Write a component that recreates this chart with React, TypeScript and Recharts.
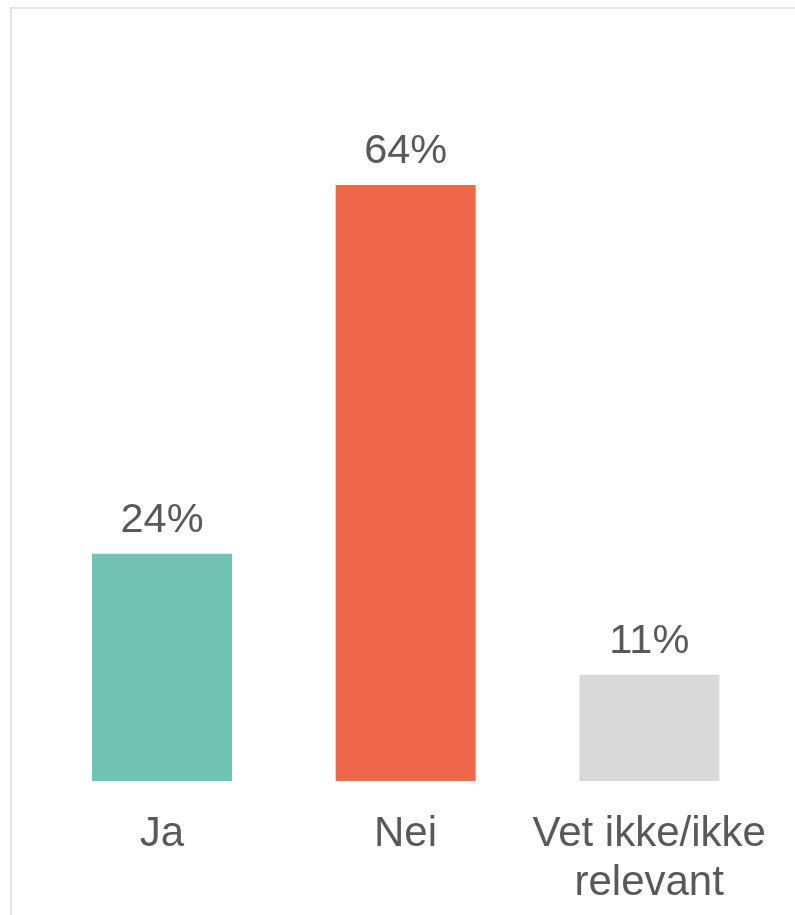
import React from 'react';
import { BarChart, Bar, XAxis, YAxis, Cell, LabelList } from 'recharts';

const categories = ['Ja', 'Nei', 'Vet ikke/ikke relevant'];
const shares = [24.4, 64.0, 11.4];
const barColors = ['#71c4b3', '#f1674b', '#d9d9d9'];

const data = categories.map((name, i) => ({ name, value: shares[i] }));

const FONT = '"Liberation Sans", Arial, sans-serif';

// greedy wrap by character count, the long category goes on two lines
const wrapLabel = (label: string, maxChars = 13) => {
    const lines: string[] = [];
    label.split(' ').forEach((word) => {
        const last = lines[lines.length - 1];
        if (last !== undefined && (last + ' ' + word).length <= maxChars) {
            lines[lines.length - 1] = last + ' ' + word;
        } else {
            lines.push(word);
        }
    });
    return lines;
};

const CategoryTick = (props: any) => {
    const { x, y, payload } = props;
    const lines = wrapLabel(String(payload.value));
    return (
        <text
            x={x}
            y={y}
            textAnchor="middle"
            fill="#595959"
            style={{ fontSize: 42, fontFamily: FONT }}
        >
            {lines.map((line, i) => (
                <tspan key={i} x={x} dy={i === 0 ? 28.5 : 49}>
                    {line}
                </tspan>
            ))}
        </text>
    );
};

const App = () => {
    return (
        <div>
            <div
                style={{
                    position: 'fixed',
                    left: 10,
                    top: 7,
                    width: 800,
                    height: 920,
                    borderTop: '2px solid #e4e4e4',
                    borderLeft: '2px solid #e4e4e4',
                }}
            />
            <div style={{ position: 'fixed', left: 0, top: 0 }}>
                <BarChart
                    width={795}
                    height={915}
                    data={data}
                    margin={{ top: 129, right: 24, left: 40, bottom: 14 }}
                    barCategoryGap={52}
                >
                    <YAxis hide domain={[0, 70]} />
                    <XAxis
                        dataKey="name"
                        axisLine={false}
                        tickLine={false}
                        tickSize={0}
                        tickMargin={36}
                        height={120}
                        interval={0}
                        tick={<CategoryTick />}
                    />
                    <Bar dataKey="value" barSize={140} isAnimationActive={false}>
                        {data.map((d, i) => (
                            <Cell key={d.name} fill={barColors[i]} />
                        ))}
                        <LabelList
                            dataKey="value"
                            position="top"
                            offset={22}
                            formatter={(v: any) => `${Math.round(Number(v))}%`}
                            style={{ fontSize: 41.5, fontFamily: FONT, fill: '#595959' }}
                        />
                    </Bar>
                </BarChart>
            </div>
        </div>
    );
};

export default App;
